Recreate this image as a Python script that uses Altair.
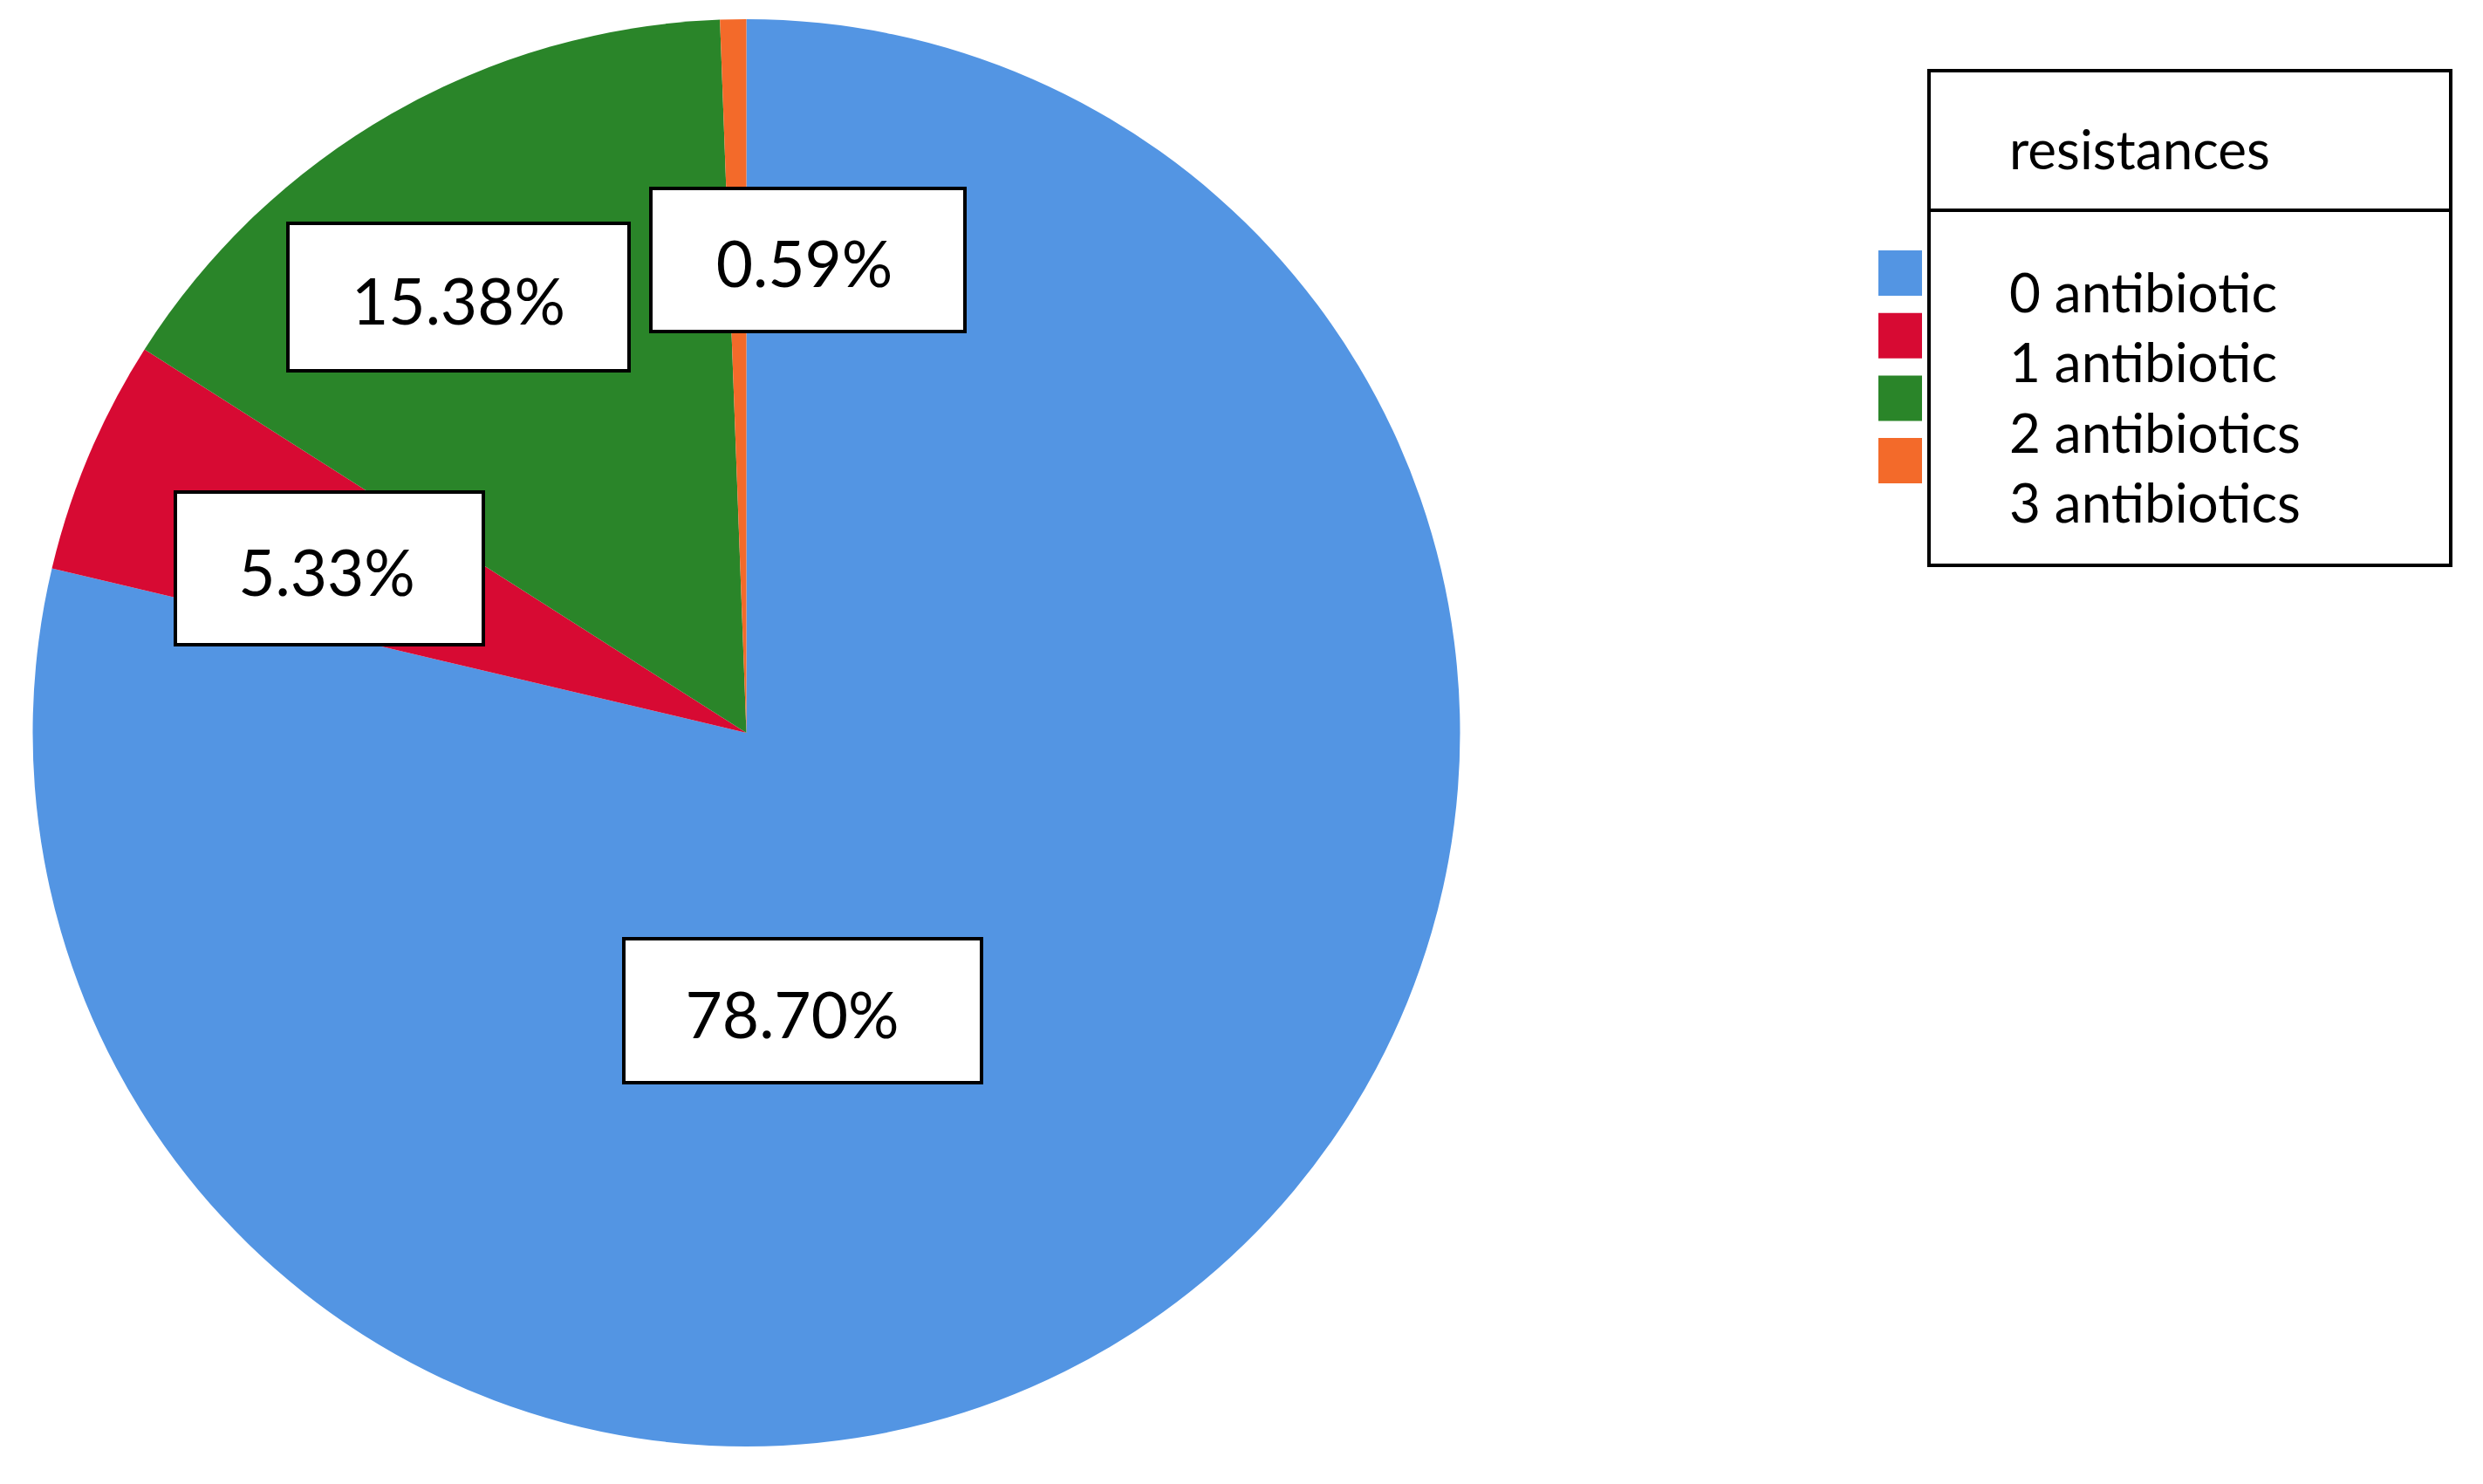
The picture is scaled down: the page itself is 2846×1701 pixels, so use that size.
import altair as alt
import pandas as pd

# ---- data ----
categories = ["0 antibiotic", "1 antibiotic", "2 antibiotics", "3 antibiotics"]
percentages = [78.70, 5.33, 15.38, 0.59]
colors = ["#5395E3", "#D70A33", "#2A8529", "#F36A2A"]
legend_title = "resistances"

# ---- layout (page pixels; the page has an 8px margin) ----
OFF = 8
CX, CY, R = 855.5 - OFF, 840 - OFF, 818
FONT = "Lato"
# label boxes (x0, y0, x1, y1), page pixels, one per category
label_boxes = [
    (715, 1076, 1125, 1241),
    (201, 564, 554, 739),
    (330, 256, 721, 425),
    (746, 216, 1106, 380),
]
label_nudge_x = [-12, -3, 0, -4]
legend_box = (2211, 81, 2809, 648)
legend_divider_y = 241
swatch_x0, swatch_x1 = 2153, 2203
swatch_top, swatch_h, swatch_step = 287, 52, 71.7
legend_text_x = 2303
legend_text_base, legend_text_step = 357.5, 80.5
legend_title_base = 194

pie_df = pd.DataFrame({
    "category": categories,
    "pct": percentages,
    "idx": list(range(len(categories))),
})

lab_df = pd.DataFrame({
    "category": categories,
    "label": [f"{v:.2f}%" for v in percentages],
    "x0": [b[0] - OFF for b in label_boxes],
    "y0": [b[1] - OFF for b in label_boxes],
    "x1": [b[2] - OFF for b in label_boxes],
    "y1": [b[3] - OFF for b in label_boxes],
})
lab_df["tx"] = (lab_df["x0"] + lab_df["x1"]) / 2 + pd.Series(label_nudge_x)
lab_df["ty"] = (lab_df["y0"] + lab_df["y1"]) / 2 + 31

leg_df = pd.DataFrame({"category": categories, "idx": list(range(len(categories)))})
leg_df["sx0"] = swatch_x0 - OFF
leg_df["sx1"] = swatch_x1 - OFF
leg_df["sy0"] = swatch_top - OFF + leg_df["idx"] * swatch_step
leg_df["sy1"] = leg_df["sy0"] + swatch_h
leg_df["tx"] = legend_text_x - OFF
leg_df["ty"] = legend_text_base - OFF + leg_df["idx"] * legend_text_step

color_scale = alt.Scale(domain=categories, range=colors)

pie = alt.Chart(pie_df).mark_arc(outerRadius=R).encode(
    theta=alt.Theta("pct:Q", stack=True),
    color=alt.Color("category:N", scale=color_scale, legend=None),
    order=alt.Order("idx:Q"),
    x=alt.value(CX),
    y=alt.value(CY),
)

boxes = alt.Chart(lab_df).mark_rect(fill="white", stroke="black", strokeWidth=4).encode(
    x=alt.X("x0:Q", scale=None, axis=None),
    x2="x1:Q",
    y=alt.Y("y0:Q", scale=None, axis=None),
    y2="y1:Q",
)

labels = alt.Chart(lab_df).mark_text(
    font=FONT, fontSize=73, align="center", baseline="alphabetic", color="black"
).encode(
    x=alt.X("tx:Q", scale=None, axis=None),
    y=alt.Y("ty:Q", scale=None, axis=None),
    text="label:N",
)

lb = legend_box
legend_frame = alt.Chart(pd.DataFrame({"k": [0]})).mark_rect(
    fill="white", stroke="black", strokeWidth=4
).encode(
    x=alt.value(lb[0] - OFF), x2=alt.value(lb[2] - OFF),
    y=alt.value(lb[1] - OFF), y2=alt.value(lb[3] - OFF),
)

divider = alt.Chart(pd.DataFrame({"k": [0]})).mark_rule(color="black", strokeWidth=4).encode(
    x=alt.value(lb[0] - OFF), x2=alt.value(lb[2] - OFF),
    y=alt.value(legend_divider_y - OFF),
)

title_text = alt.Chart(pd.DataFrame({"t": [legend_title]})).mark_text(
    font=FONT, fontSize=62, align="left", baseline="alphabetic", color="black"
).encode(
    x=alt.value(legend_text_x - OFF),
    y=alt.value(legend_title_base - OFF),
    text="t:N",
)

swatches = alt.Chart(leg_df).mark_rect().encode(
    x=alt.X("sx0:Q", scale=None, axis=None),
    x2="sx1:Q",
    y=alt.Y("sy0:Q", scale=None, axis=None),
    y2="sy1:Q",
    color=alt.Color("category:N", scale=color_scale, legend=None),
)

leg_text = alt.Chart(leg_df).mark_text(
    font=FONT, fontSize=62, align="left", baseline="alphabetic", color="black"
).encode(
    x=alt.X("tx:Q", scale=None, axis=None),
    y=alt.Y("ty:Q", scale=None, axis=None),
    text="category:N",
)

chart = alt.layer(
    pie, boxes, labels, legend_frame, divider, title_text, swatches, leg_text
).properties(
    width=2815,
    height=1665,
    autosize=alt.AutoSizeParams(type="none"),
    padding=0,
    background="white",
).configure_view(stroke=None)

chart.save("out.html", embed_options={"renderer": "svg", "actions": False})
